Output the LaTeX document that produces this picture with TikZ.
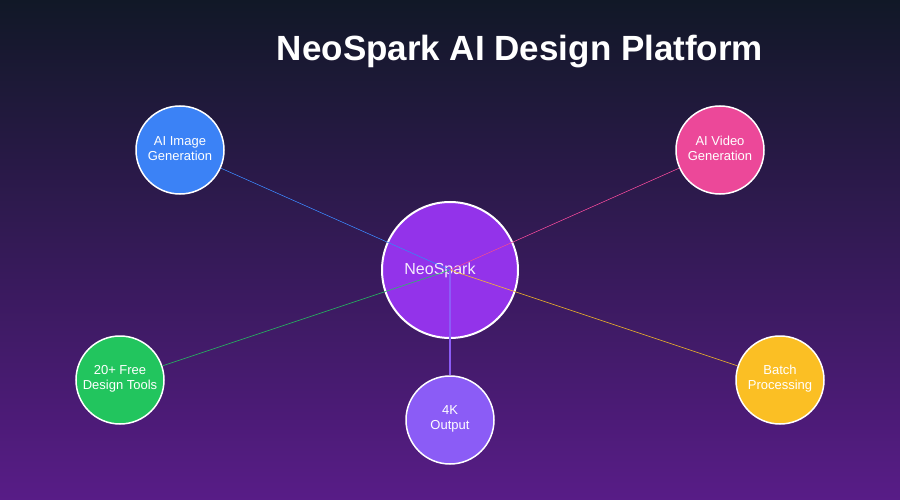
\documentclass[tikz,border=0pt]{standalone}
\usepackage{fontspec}
\setmainfont{Liberation Sans}
\usetikzlibrary{positioning}
\definecolor{bgtop}{HTML}{111827}
\definecolor{bgbot}{HTML}{581C87}
\definecolor{cblue}{HTML}{3B82F6}
\definecolor{cpink}{HTML}{EC4899}
\definecolor{cgreen}{HTML}{22C55E}
\definecolor{cyellow}{HTML}{FBBF24}
\definecolor{cviolet}{HTML}{8B5CF6}
\definecolor{ccenter}{HTML}{9333EA}
\begin{document}
\begin{tikzpicture}[
    x=1pt, y=-1pt,
    feature/.style={circle, draw=white, line width=1.5pt, minimum size=88pt, inner sep=0pt, align=center, text=white, font=\fontsize{13}{15}\selectfont},
    hub/.style={circle, draw=white, line width=2pt, minimum size=136pt, fill=ccenter, text=white!90!ccenter, font=\fontsize{16}{18}\selectfont},
    link/.style={line width=0.6pt}
]

% Background and title
\shade[top color=bgtop, bottom color=bgbot] (0,0) rectangle (900,500);
\useasboundingbox (0,0) rectangle (900,500);
\node[text=white, font=\bfseries\fontsize{35}{40}\selectfont] (title) at (520,52) {NeoSpark AI Design Platform};

% Nodes
\node[hub] (hub) at (450,270) {};
\node[text=white!90!ccenter, font=\fontsize{16}{18}\selectfont] (hubtext) at (440,270) {NeoSpark};
\node[feature, fill=cblue] (image) at (180,150) {\\[-9pt]AI Image\\Generation};
\node[feature, fill=cpink] (video) at (720,150) {\\[-9pt]AI Video\\Generation};
\node[feature, fill=cgreen] (tools) at (120,380) {\\[-9pt]20+ Free\\Design Tools};
\node[feature, fill=cviolet] (output) at (450,420) {\\[-9pt]4K\\Output};
\node[feature, fill=cyellow] (batch) at (780,380) {\\[-9pt]Batch\\Processing};

% Links
\draw[link, cblue] (hub.center) -- (image);
\draw[link, cpink] (hub.center) -- (video);
\draw[link, cgreen] (hub.center) -- (tools);
\draw[link, cyellow] (hub.center) -- (batch);
\draw[link, cviolet, line width=1.5pt] (hub.center) -- (output);

\end{tikzpicture}
\end{document}
